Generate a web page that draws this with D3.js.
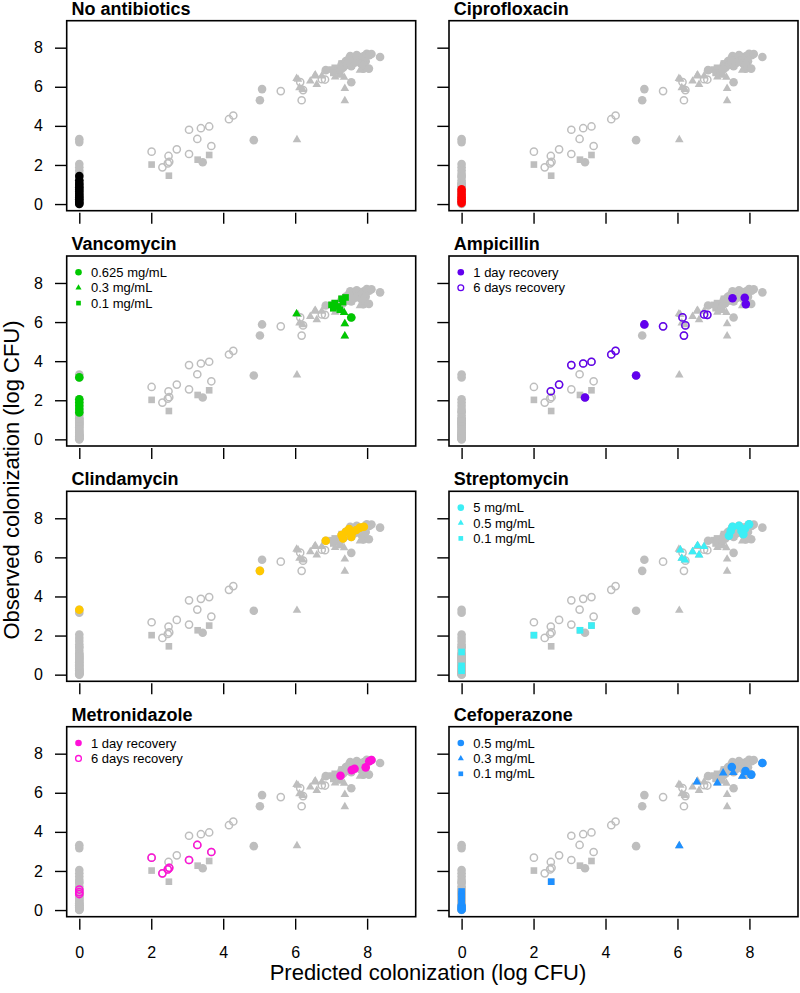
<!DOCTYPE html>
<html><head><meta charset="utf-8">
<script src="https://cdn.jsdelivr.net/npm/d3@7"></script>
<style>
body{margin:0;background:#fff}
svg{display:block}
text{font-family:"Liberation Sans",Arial,Helvetica,sans-serif}
</style>
</head><body>
<svg id="chart" width="800" height="993"></svg>
<script>
// ---------- DATA: [predicted, observed] (log CFU) ----------
const noAntibiotics = [[0,1.43],[0,1.22],[0,1.08],[0,0.97],[0,0.86],[0,0.75],[0,0.64],[0,0.53],[0,0.43],[0,0.33],[0,0.24],[0,0.15],[0,0.07],[0,0.0]];
const ciprofloxacin = [[0,0.75],[0,0.62],[0,0.48],[0,0.35],[0,0.24],[0,0.14],[0,0.05]];
const vanco0625 = [[0,3.17],[0,2.05],[0,1.88],[0,1.72],[0,1.55],[0,1.38],[7.56,6.23]];
const vanco03 = [[6.04,6.42],[7.36,6.49],[7.38,5.91],[7.38,5.29]];
const vanco01 = [[7.01,6.88],[7.10,6.97],[7.19,6.80],[7.29,7.19],[7.33,7.02],[7.40,7.26],[7.24,6.63],[7.06,6.71]];
const ampi1day = [[3.43,2.14],[4.85,3.27],[5.08,5.88],[7.53,7.22],[7.87,7.24],[7.90,6.92]];
const ampi6day = [[2.48,2.46],[2.71,2.80],[3.05,3.80],[3.38,3.88],[3.61,3.97],[4.16,4.34],[4.28,4.53],[5.60,5.78],[6.14,6.24],[6.22,5.83],[6.18,5.31],[6.74,6.39],[6.83,6.37]];
const clindamycin = [[0,3.32],[5.02,5.31],[6.85,6.85],[7.29,7.14],[7.33,6.97],[7.41,7.31],[7.50,7.45],[7.56,7.05],[7.59,7.28],[7.70,7.40],[7.80,7.52],[7.91,7.57]];
const strep5 = [[7.43,7.11],[7.48,7.35],[7.53,7.57],[7.71,7.62],[7.78,7.35],[7.87,7.45],[7.99,7.69],[7.83,7.18]];
const strep05 = [[6.08,6.38],[6.12,5.95],[6.21,5.86],[6.42,6.29],[6.56,6.60],[6.60,6.12],[6.74,6.55]];
const strep01 = [[0,1.16],[0,0.45],[0,0.30],[0,0.20],[2.01,2.02],[3.29,2.27],[3.61,2.51]];
const metro1day = [[7.26,6.87],[7.57,7.16],[7.65,7.23],[7.96,7.30],[8.06,7.61],[8.12,7.68]];
const metro6day = [[0,1.05],[0,0.92],[0,0.82],[2.01,2.68],[2.31,1.88],[2.46,2.08],[2.50,2.16],[3.05,2.56],[3.28,3.33],[3.67,2.97]];
const cefo05 = [[0,0.22],[0,0.10],[0,0.02],[7.51,7.32],[7.89,7.11],[8.05,6.93],[8.36,7.52]];
const cefo03 = [[6.05,3.29],[6.54,6.55],[7.11,6.50],[7.27,7.01],[7.55,7.03],[7.80,6.84]];
const cefo01 = [[0,0.95],[0,0.82],[0,0.68],[0,0.55],[0,0.42],[2.49,1.45]];

const xTicks = [0,2,4,6,8];
const yTicks = [0,2,4,6,8];
const panelTitles = ["No antibiotics","Ciprofloxacin","Vancomycin","Ampicillin","Clindamycin","Streptomycin","Metronidazole","Cefoperazone"];
const xTitle = "Predicted colonization (log CFU)";
const yTitle = "Observed colonization (log CFU)";

// ---------- panel definitions ----------
const panels = [
  {title: panelTitles[0], legend: false, series: [{data: noAntibiotics, shape: "circle", color: "#000000"}]},
  {title: panelTitles[1], legend: false, series: [{data: ciprofloxacin, shape: "circle", color: "#FF0000"}]},
  {title: panelTitles[2], legend: true, series: [
    {data: vanco0625, shape: "circle", color: "#00C800", label: "0.625 mg/mL"},
    {data: vanco03, shape: "triangle", color: "#00C800", label: "0.3 mg/mL"},
    {data: vanco01, shape: "square", color: "#00C800", label: "0.1 mg/mL"}]},
  {title: panelTitles[3], legend: true, series: [
    {data: ampi1day, shape: "circle", color: "#6200EE", label: "1 day recovery"},
    {data: ampi6day, shape: "open", color: "#6200EE", label: "6 days recovery"}]},
  {title: panelTitles[4], legend: false, series: [{data: clindamycin, shape: "circle", color: "#FFC800"}]},
  {title: panelTitles[5], legend: true, series: [
    {data: strep5, shape: "circle", color: "#3CEEF5", label: "5 mg/mL"},
    {data: strep05, shape: "triangle", color: "#3CEEF5", label: "0.5 mg/mL"},
    {data: strep01, shape: "square", color: "#3CEEF5", label: "0.1 mg/mL"}]},
  {title: panelTitles[6], legend: true, series: [
    {data: metro1day, shape: "circle", color: "#FF10D8", label: "1 day recovery"},
    {data: metro6day, shape: "open", color: "#FF10D8", label: "6 days recovery"}]},
  {title: panelTitles[7], legend: true, series: [
    {data: cefo05, shape: "circle", color: "#1E90FF", label: "0.5 mg/mL"},
    {data: cefo03, shape: "triangle", color: "#1E90FF", label: "0.3 mg/mL"},
    {data: cefo01, shape: "square", color: "#1E90FF", label: "0.1 mg/mL"}]}
];

// ---------- layout ----------
const svg = d3.select("#chart");
svg.append("rect").attr("width", 800).attr("height", 993).attr("fill", "#fff");
const colX = [66.7, 449], rowY = [20.7, 256, 491.3, 726.7];
const W = 349, H = 190;
const x = d3.scaleLinear().domain([-0.35, 9.35]).range([0, W]);
const y = d3.scaleLinear().domain([-0.34, 9.38]).range([H, 0]);
const GRAY = "#BEBEBE";

function addMark(g, shape, cx, cy, color, small) {
  if (shape === "circle") {
    g.append("circle").attr("cx", cx).attr("cy", cy).attr("r", small ? 3.3 : 4.3).attr("fill", color);
  } else if (shape === "open") {
    g.append("circle").attr("cx", cx).attr("cy", cy).attr("r", small ? 2.9 : 3.6)
      .attr("fill", "none").attr("stroke", color).attr("stroke-width", small ? 1.3 : 1.5);
  } else if (shape === "triangle") {
    g.append("path").attr("transform", `translate(${cx},${cy})`)
      .attr("d", d3.symbol(d3.symbolTriangle, small ? 16 : 32)()).attr("fill", color);
  } else if (shape === "square") {
    g.append("path").attr("transform", `translate(${cx},${cy})`)
      .attr("d", d3.symbol(d3.symbolSquare, small ? 22 : 44)()).attr("fill", color);
  }
}

const allSeries = panels.flatMap(p => p.series);

panels.forEach((p, i) => {
  const col = i % 2, row = Math.floor(i / 2);
  const g = svg.append("g").attr("transform", `translate(${colX[col]},${rowY[row]})`);

  // y axis ticks
  const ya = d3.axisLeft(y).tickValues(yTicks).tickSize(11.7).tickPadding(12)
    .tickFormat(col === 0 ? d3.format("d") : () => "");
  const yg = g.append("g").call(ya);
  yg.select(".domain").remove();
  yg.selectAll("line").attr("stroke", "#000").attr("stroke-width", 1.4);
  yg.selectAll("text").attr("font-size", 16).attr("fill", "#000")
    .style("font-family", '"Liberation Sans",Arial,sans-serif');

  // x axis ticks
  const xa = d3.axisBottom(x).tickValues(xTicks).tickSize(11).tickPadding(17)
    .tickFormat(row === 3 ? d3.format("d") : () => "");
  const xg = g.append("g").attr("transform", `translate(0,${H + 2})`).call(xa);
  xg.select(".domain").remove();
  xg.selectAll("line").attr("stroke", "#000").attr("stroke-width", 1.4);
  xg.selectAll("text").attr("font-size", 16).attr("fill", "#000")
    .style("font-family", '"Liberation Sans",Arial,sans-serif');

  // gray background: all observations
  const bg = g.append("g");
  allSeries.forEach(s => s.data.forEach(d => addMark(bg, s.shape, x(d[0]), y(d[1]), GRAY, false)));

  // highlighted series
  const fg = g.append("g");
  p.series.forEach(s => s.data.forEach(d => addMark(fg, s.shape, x(d[0]), y(d[1]), s.color, false)));

  // legend
  if (p.legend) {
    p.series.forEach((s, k) => {
      const ly = 16.3 + k * 15.4;
      addMark(g, s.shape, 11.8, ly, s.color, true);
      g.append("text").attr("x", 24.3).attr("y", ly).attr("dy", "0.36em")
        .attr("font-size", 13).attr("fill", "#000").text(s.label);
    });
  }

  // box
  g.append("rect").attr("x", 0).attr("y", 0).attr("width", W).attr("height", H)
    .attr("fill", "none").attr("stroke", "#000").attr("stroke-width", 1.6);

  // title
  g.append("text").attr("x", 4.8).attr("y", -6.2).attr("font-size", 18).attr("font-weight", "bold")
    .attr("fill", "#000").text(p.title);
});

// axis titles
svg.append("text").attr("x", 428).attr("y", 980).attr("text-anchor", "middle")
  .attr("font-size", 22).attr("fill", "#000").text(xTitle);
svg.append("text").attr("transform", "translate(19,480) rotate(-90)").attr("text-anchor", "middle")
  .attr("font-size", 22).attr("fill", "#000").text(yTitle);
</script>
</body></html>
